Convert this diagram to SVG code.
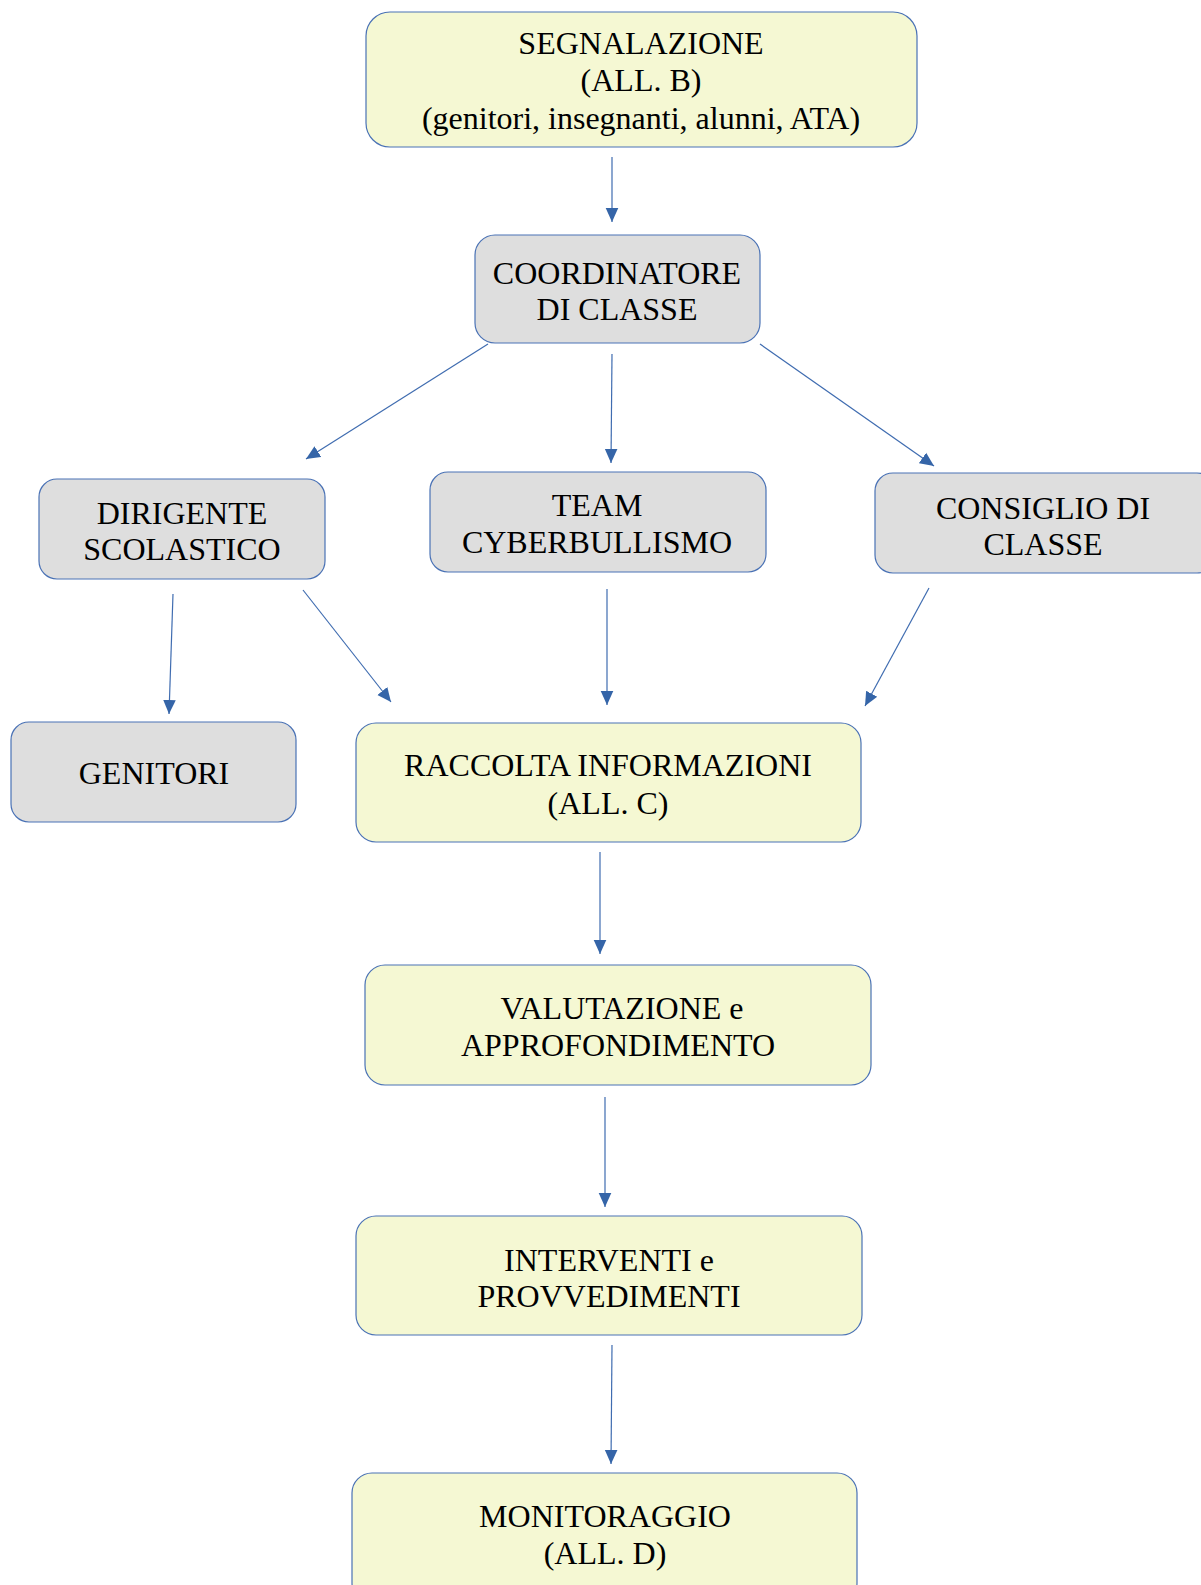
<svg xmlns="http://www.w3.org/2000/svg" width="1201" height="1585" viewBox="0 0 1201 1585">
<style>
.y{fill:#F5F8D3;stroke:#4A72B5;stroke-width:1.2}
.g{fill:#DEDEDE;stroke:#4A72B5;stroke-width:1.2}
text{font-family:"Liberation Serif","Times New Roman",serif;font-size:32px;fill:#000;text-anchor:middle}
.c line{stroke:#3F6CB0;stroke-width:1.2;marker-end:url(#ah)}
</style>
<defs>
<marker id="ah" viewBox="0 0 10 10" refX="10" refY="5" markerUnits="userSpaceOnUse" markerWidth="14" markerHeight="14" orient="auto">
<path d="M0,0.5 L10,5 L0,9.5 z" fill="#3565A8"/>
</marker>
</defs>
<rect width="1201" height="1585" fill="#fff"/>
<g class="c" id="connectors">
<line x1="612" y1="157" x2="612" y2="222"/>
<line x1="488" y1="344" x2="306" y2="459"/>
<line x1="612" y1="354" x2="611" y2="463"/>
<line x1="760" y1="344" x2="934" y2="466"/>
<line x1="173" y1="594" x2="169" y2="714"/>
<line x1="303" y1="590" x2="391" y2="702"/>
<line x1="607" y1="589" x2="607" y2="705"/>
<line x1="929" y1="588" x2="865" y2="706"/>
<line x1="600" y1="852" x2="600" y2="954"/>
<line x1="605" y1="1097" x2="605" y2="1207"/>
<line x1="612" y1="1345" x2="611" y2="1464"/>
</g>
<g id="segnalazione">
<rect class="y" x="366" y="12" width="551" height="135" rx="24"/>
<text x="641" y="54">SEGNALAZIONE</text>
<text x="641" y="91">(ALL. B)</text>
<text x="641" y="129">(genitori, insegnanti, alunni, ATA)</text>
</g>
<g id="coordinatore">
<rect class="g" x="475" y="235" width="285" height="108" rx="20"/>
<text x="617" y="284">COORDINATORE</text>
<text x="617" y="320">DI CLASSE</text>
</g>
<g id="dirigente">
<rect class="g" x="39" y="479" width="286" height="100" rx="18"/>
<text x="182" y="524">DIRIGENTE</text>
<text x="182" y="560">SCOLASTICO</text>
</g>
<g id="team">
<rect class="g" x="430" y="472" width="336" height="100" rx="18"/>
<text x="597" y="516">TEAM</text>
<text x="597" y="553">CYBERBULLISMO</text>
</g>
<g id="consiglio">
<rect class="g" x="875" y="473" width="340" height="100" rx="18"/>
<text x="1043" y="519">CONSIGLIO DI</text>
<text x="1043" y="555">CLASSE</text>
</g>
<g id="genitori">
<rect class="g" x="11" y="722" width="285" height="100" rx="18"/>
<text x="154" y="784">GENITORI</text>
</g>
<g id="raccolta">
<rect class="y" x="356" y="723" width="505" height="119" rx="20"/>
<text x="608" y="776">RACCOLTA INFORMAZIONI</text>
<text x="608" y="814">(ALL. C)</text>
</g>
<g id="valutazione">
<rect class="y" x="365" y="965" width="506" height="120" rx="20"/>
<text x="622" y="1019">VALUTAZIONE e</text>
<text x="618" y="1056">APPROFONDIMENTO</text>
</g>
<g id="interventi">
<rect class="y" x="356" y="1216" width="506" height="119" rx="20"/>
<text x="609" y="1271">INTERVENTI e</text>
<text x="609" y="1307">PROVVEDIMENTI</text>
</g>
<g id="monitoraggio">
<rect class="y" x="352" y="1473" width="505" height="130" rx="20"/>
<text x="605" y="1527">MONITORAGGIO</text>
<text x="605" y="1564">(ALL. D)</text>
</g>
</svg>
